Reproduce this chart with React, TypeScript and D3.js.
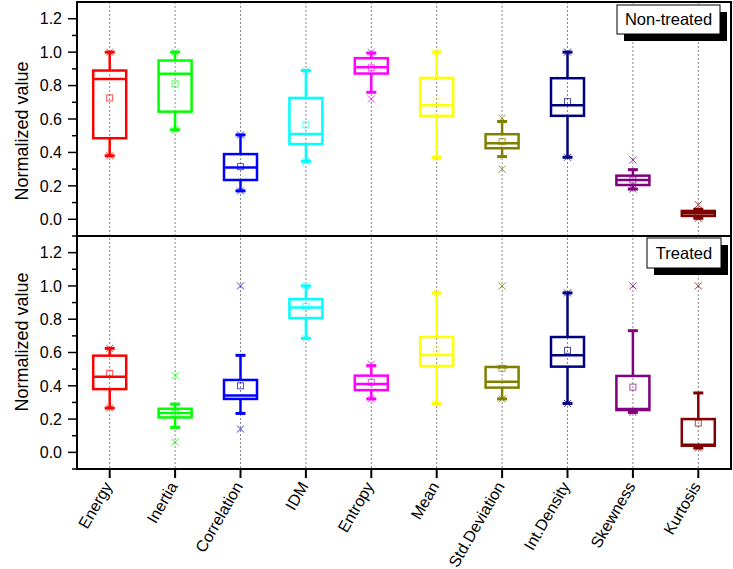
import * as d3 from 'd3';
import { useEffect, useRef } from 'react';

const categories = ['Energy', 'Inertia', 'Correlation', 'IDM', 'Entropy', 'Mean', 'Std.Deviation', 'Int.Density', 'Skewness', 'Kurtosis'];
const colors = ['#ff0000', '#00ff00', '#0000ff', '#00ffff', '#ff00ff', '#ffff00', '#808000', '#000080', '#800080', '#800000'];

// non-treated panel
const ntLow = [0.38, 0.535, 0.17, 0.347, 0.76, 0.369, 0.375, 0.371, 0.181, 0.006];
const ntQ1 = [0.485, 0.644, 0.235, 0.45, 0.872, 0.619, 0.425, 0.619, 0.205, 0.02];
const ntMed = [0.84, 0.87, 0.31, 0.51, 0.91, 0.683, 0.455, 0.683, 0.235, 0.036];
const ntQ3 = [0.89, 0.95, 0.39, 0.726, 0.964, 0.846, 0.509, 0.844, 0.261, 0.05];
const ntHigh = [1.0, 1.0, 0.505, 0.89, 0.995, 1.0, 0.585, 1.0, 0.297, 0.06];
const ntMean = [0.726, 0.81, 0.315, 0.565, 0.906, 0.708, 0.465, 0.704, 0.235, 0.035];
const ntMin = [0.38, 0.535, 0.17, 0.347, 0.72, 0.369, 0.3, 0.371, 0.181, 0.006];
const ntMax = [1.0, 1.0, 0.505, 0.89, 1.0, 1.0, 0.605, 1.0, 0.355, 0.087];

// treated panel
const trLow = [0.266, 0.15, 0.234, 0.685, 0.321, 0.294, 0.321, 0.294, 0.24, 0.026];
const trQ1 = [0.38, 0.21, 0.321, 0.807, 0.374, 0.519, 0.389, 0.515, 0.254, 0.04];
const trMed = [0.455, 0.236, 0.341, 0.87, 0.411, 0.585, 0.425, 0.583, 0.26, 0.045];
const trQ3 = [0.581, 0.262, 0.435, 0.92, 0.461, 0.693, 0.513, 0.693, 0.459, 0.2];
const trHigh = [0.625, 0.29, 0.583, 1.0, 0.521, 0.958, 0.513, 0.958, 0.731, 0.357];
const trMean = [0.475, 0.235, 0.4, 0.875, 0.42, 0.615, 0.505, 0.613, 0.392, 0.176];
const trMin = [0.266, 0.062, 0.14, 0.685, 0.321, 0.294, 0.321, 0.294, 0.24, 0.026];
const trMax = [0.625, 0.461, 1.0, 1.0, 0.53, 0.958, 1.0, 0.958, 1.0, 1.0];

const yTicks = [0, 0.2, 0.4, 0.6, 0.8, 1.0, 1.2];
const yMinor = [-0.1, 0.1, 0.3, 0.5, 0.7, 0.9, 1.1];

const W = 733;
const H = 569;
const font = '"Liberation Sans", Arial, sans-serif';

const App = () => {
  const ref = useRef<SVGSVGElement>(null);

  useEffect(() => {
    const svg = d3.select(ref.current);
    svg.selectAll('*').remove();

    const left = 77;
    const right = 731;
    const top = 2;
    const mid = 236;
    const bottom = 469;

    const x = d3.scaleBand<string>().domain(categories).range([left, right]).padding(0);
    const cx = (c: string) => (x(c) as number) + x.bandwidth() / 2;

    const panels = [
      { y: d3.scaleLinear().domain([-0.1, 1.3]).range([mid, top]), low: ntLow, q1: ntQ1, med: ntMed, q3: ntQ3, high: ntHigh, mean: ntMean, mn: ntMin, mx: ntMax, label: 'Non-treated', labelY: 131, legend: { x: 617, y: 5, w: 103, h: 29 } },
      { y: d3.scaleLinear().domain([-0.1, 1.3]).range([bottom, mid]), low: trLow, q1: trQ1, med: trMed, q3: trQ3, high: trHigh, mean: trMean, mn: trMin, mx: trMax, label: 'Treated', labelY: 342, legend: { x: 647, y: 238, w: 74, h: 30 } },
    ];

    // dotted grid lines
    svg
      .selectAll('.grid')
      .data(categories)
      .enter()
      .append('line')
      .attr('x1', (d) => cx(d))
      .attr('x2', (d) => cx(d))
      .attr('y1', top)
      .attr('y2', bottom)
      .style('stroke', '#888')
      .style('stroke-width', 1)
      .style('stroke-dasharray', '2,2');

    const boxW = 33;
    const capW = 10;

    panels.forEach((p) => {
      const g = svg.append('g');
      const y = p.y;

      // y ticks
      g.selectAll('.maj')
        .data(yTicks)
        .enter()
        .append('line')
        .attr('x1', left - 9)
        .attr('x2', left)
        .attr('y1', (d) => y(d))
        .attr('y2', (d) => y(d))
        .style('stroke', '#000')
        .style('stroke-width', 1.5);
      g.selectAll('.min')
        .data(yMinor)
        .enter()
        .append('line')
        .attr('x1', left - 5)
        .attr('x2', left)
        .attr('y1', (d) => y(d))
        .attr('y2', (d) => y(d))
        .style('stroke', '#000')
        .style('stroke-width', 1.5);
      g.selectAll('.lbl')
        .data(yTicks)
        .enter()
        .append('text')
        .attr('x', left - 15)
        .attr('y', (d) => y(d))
        .attr('dy', '0.36em')
        .attr('text-anchor', 'end')
        .style('font-family', font)
        .style('font-size', '16px')
        .text((d) => d3.format('.1f')(d));

      g.append('text')
        .attr('transform', `translate(28, ${p.labelY}) rotate(-90)`)
        .attr('text-anchor', 'middle')
        .style('font-family', font)
        .style('font-size', '18px')
        .text('Normalized value');

      categories.forEach((c, i) => {
        const col = colors[i];
        const xc = cx(c);
        const bg = g.append('g');
        // whiskers
        bg.append('line')
          .attr('x1', xc).attr('x2', xc)
          .attr('y1', y(p.q3[i])).attr('y2', y(p.high[i]))
          .style('stroke', col).style('stroke-width', 2.5);
        bg.append('line')
          .attr('x1', xc).attr('x2', xc)
          .attr('y1', y(p.q1[i])).attr('y2', y(p.low[i]))
          .style('stroke', col).style('stroke-width', 2.5);
        [p.high[i], p.low[i]].forEach((v) => {
          bg.append('line')
            .attr('x1', xc - capW / 2).attr('x2', xc + capW / 2)
            .attr('y1', y(v)).attr('y2', y(v))
            .style('stroke', col).style('stroke-width', 3);
        });
        // box
        bg.append('rect')
          .attr('x', xc - boxW / 2)
          .attr('y', y(p.q3[i]))
          .attr('width', boxW)
          .attr('height', Math.max(1, y(p.q1[i]) - y(p.q3[i])))
          .style('fill', 'none')
          .style('stroke', col)
          .style('stroke-width', 2.5);
        bg.append('line')
          .attr('x1', xc - boxW / 2).attr('x2', xc + boxW / 2)
          .attr('y1', y(p.med[i])).attr('y2', y(p.med[i]))
          .style('stroke', col).style('stroke-width', 2.5);
        // mean square
        bg.append('rect')
          .attr('x', xc - 3).attr('y', y(p.mean[i]) - 3)
          .attr('width', 6).attr('height', 6)
          .style('fill', 'none').style('stroke', col).style('stroke-width', 1).style('opacity', 0.7);
        // min / max crosses
        [p.mn[i], p.mx[i]].forEach((v) => {
          const yy = y(v);
          bg.append('path')
            .attr('d', `M${xc - 3.5},${yy - 3.5}L${xc + 3.5},${yy + 3.5}M${xc - 3.5},${yy + 3.5}L${xc + 3.5},${yy - 3.5}`)
            .style('stroke', col).style('stroke-width', 1).style('opacity', 0.8);
        });
      });

      // legend box
      const l = p.legend;
      g.append('rect').attr('x', l.x + 7).attr('y', l.y + 7).attr('width', l.w).attr('height', l.h).style('fill', '#000');
      g.append('rect').attr('x', l.x).attr('y', l.y).attr('width', l.w).attr('height', l.h).style('fill', '#fff').style('stroke', '#000').style('stroke-width', 1);
      g.append('text')
        .attr('x', l.x + l.w / 2)
        .attr('y', l.y + l.h / 2)
        .attr('dy', '0.36em')
        .attr('text-anchor', 'middle')
        .style('font-family', font)
        .style('font-size', '16.5px')
        .text(p.label);
    });

    // frame
    svg.append('rect')
      .attr('x', left).attr('y', top)
      .attr('width', right - left).attr('height', bottom - top)
      .style('fill', 'none').style('stroke', '#000').style('stroke-width', 2);
    svg.append('line')
      .attr('x1', left).attr('x2', right)
      .attr('y1', mid).attr('y2', mid)
      .style('stroke', '#000').style('stroke-width', 2);

    // x axis ticks + labels
    svg.selectAll('.xt')
      .data(categories)
      .enter()
      .append('line')
      .attr('x1', (d) => cx(d)).attr('x2', (d) => cx(d))
      .attr('y1', bottom).attr('y2', bottom + 9)
      .style('stroke', '#000').style('stroke-width', 2);
    svg.selectAll('.xl')
      .data(categories)
      .enter()
      .append('text')
      .attr('transform', (d) => `translate(${cx(d) + 3}, 486) rotate(-60)`)
      .attr('text-anchor', 'end')
      .style('font-family', font)
      .style('font-size', '16px')
      .text((d) => d);
  }, []);

  return <svg ref={ref} width={W} height={H} style={{ position: 'absolute', left: 0, top: 0, background: '#fff' }}></svg>;
};

export default App;
